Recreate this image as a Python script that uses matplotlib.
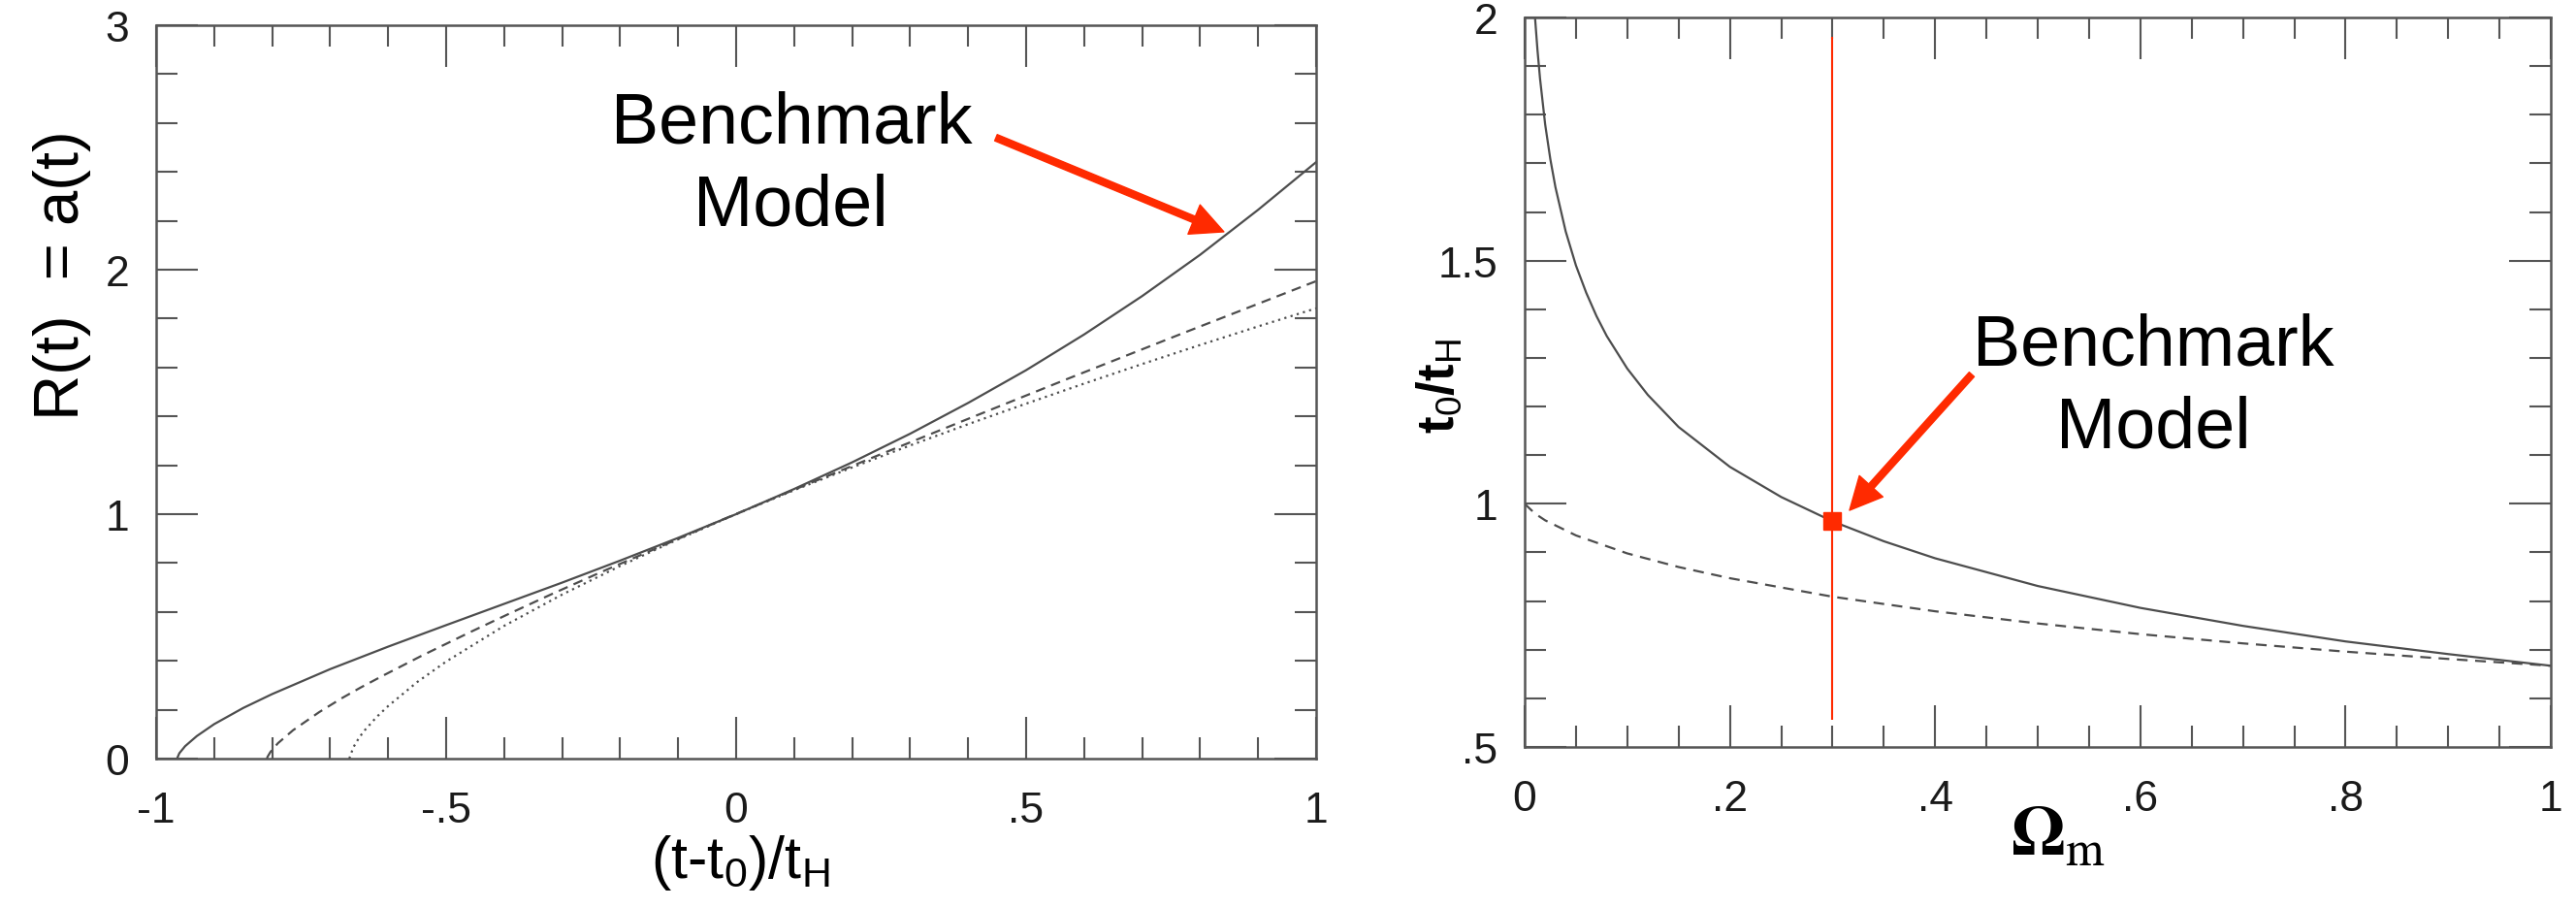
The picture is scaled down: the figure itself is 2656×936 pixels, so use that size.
import matplotlib.pyplot as plt
from matplotlib.ticker import MultipleLocator

plt.rcParams['font.family'] = ['Liberation Sans', 'DejaVu Sans']
plt.rcParams['mathtext.fontset'] = 'custom'
plt.rcParams['mathtext.rm'] = 'Liberation Sans Narrow'
plt.rcParams['mathtext.it'] = 'Liberation Sans Narrow'
plt.rcParams['mathtext.bf'] = 'Liberation Sans:bold'
plt.rcParams['mathtext.default'] = 'regular'

# left panel: a(t) against (t-t0)/tH
lcdm_x = [-0.964, -0.96, -0.95, -0.93, -0.9, -0.85, -0.8, -0.7, -0.6, -0.5, -0.4, -0.3, -0.2,
          -0.1, 0.0, 0.1, 0.2, 0.3, 0.4, 0.5, 0.6, 0.7, 0.8, 0.9, 1.0]
lcdm_a = [0.0, 0.022, 0.051, 0.092, 0.141, 0.207, 0.264, 0.366, 0.458, 0.546, 0.633, 0.720, 0.810,
          0.903, 1.0, 1.103, 1.212, 1.329, 1.455, 1.589, 1.735, 1.892, 2.061, 2.245, 2.44]

open_x = [-0.809, -0.808, -0.803, -0.790, -0.764, -0.719, -0.680, -0.648, -0.610, -0.542, -0.458,
          -0.392, -0.317, -0.231, -0.133, -0.024, 0.100, 0.240, 0.397, 0.572, 0.769, 0.989, 1.0]
open_a = [0.0, 0.007, 0.027, 0.063, 0.116, 0.190, 0.247, 0.290, 0.338, 0.421, 0.518,
          0.592, 0.674, 0.765, 0.865, 0.977, 1.100, 1.236, 1.387, 1.554, 1.739, 1.943, 1.953]

eds_x = [-0.667, -0.66, -0.65, -0.64, -0.62, -0.6, -0.55, -0.5, -0.4, -0.3, -0.2, -0.1, 0.0,
         0.1, 0.2, 0.3, 0.4, 0.5, 0.6, 0.7, 0.8, 0.9, 1.0]
eds_a = [0.0, 0.046, 0.086, 0.117, 0.170, 0.215, 0.313, 0.397, 0.543, 0.671, 0.788, 0.897, 1.0,
         1.098, 1.191, 1.281, 1.368, 1.452, 1.534, 1.614, 1.692, 1.768, 1.842]

# right panel: t0/tH against Omega_m
flat_om = [0.0101, 0.0125, 0.015, 0.02, 0.025, 0.03, 0.04, 0.05, 0.06, 0.07, 0.08, 0.1, 0.12,
           0.15, 0.2, 0.25, 0.3, 0.35, 0.4, 0.5, 0.6, 0.7, 0.8, 0.9, 1.0]
flat_t0 = [2.0, 1.933, 1.874, 1.780, 1.709, 1.651, 1.560, 1.490, 1.434, 1.386, 1.345, 1.278, 1.224,
           1.158, 1.076, 1.014, 0.964, 0.923, 0.888, 0.831, 0.786, 0.749, 0.717, 0.691, 0.667]

open_om = [0.0, 0.01, 0.02, 0.05, 0.1, 0.15, 0.2, 0.3, 0.4, 0.5, 0.6, 0.7, 0.8, 0.9, 1.0]
open_t0 = [1.0, 0.980, 0.966, 0.935, 0.898, 0.870, 0.847, 0.809, 0.779, 0.754, 0.732, 0.713,
           0.696, 0.681, 0.667]

bench_om = 0.3
bench_t0 = 0.964

left_xticks = [-1, -0.5, 0, 0.5, 1]
left_xlabels = ['-1', '-.5', '0', '.5', '1']
left_yticks = [0, 1, 2, 3]
right_xticks = [0, 0.2, 0.4, 0.6, 0.8, 1]
right_xlabels = ['0', '.2', '.4', '.6', '.8', '1']
right_yticks = [0.5, 1, 1.5, 2]
right_ylabels = ['.5', '1', '1.5', '2']

W, H = 2656, 937
fig = plt.figure(figsize=(W / 100, H / 100), dpi=100)
ax1 = fig.add_axes([161 / W, 1 - 783 / H, (1357 - 161) / W, (783 - 27) / H])
ax2 = fig.add_axes([1572 / W, 1 - 771 / H, (2630 - 1572) / W, (771 - 19) / H])

grey = '#4d4d4d'
red = '#ff2a00'
narrow = ['Liberation Sans Narrow', 'Liberation Sans']


def style(ax):
    for s in ax.spines.values():
        s.set_linewidth(1.8)
        s.set_color('#555555')
    ax.tick_params(which='both', direction='in', top=True, right=True, color='#555555',
                   labelcolor='#1a1a1a', width=1.5, labelsize=32, pad=20)
    ax.tick_params(axis='x', which='both', pad=24)
    ax.tick_params(which='major', length=31)
    ax.tick_params(which='minor', length=16)


# left
ax1.plot(lcdm_x, lcdm_a, color=grey, lw=1.6)
ax1.plot(open_x, open_a, color=grey, lw=1.6, ls=(0, (4.5, 3)))
ax1.plot(eds_x, eds_a, color=grey, lw=1.6, ls=(0, (1, 2)))
ax1.set_xlim(-1, 1)
ax1.set_ylim(0, 3)
ax1.set_xticks(left_xticks, left_xlabels)
ax1.set_yticks(left_yticks)
ax1.xaxis.set_minor_locator(MultipleLocator(0.1))
ax1.yaxis.set_minor_locator(MultipleLocator(0.2))
style(ax1)
ax1.set_xlabel(r'(t-t$_0$)/t$_H$', fontsize=44, family=narrow, va='top')
ax1.xaxis.set_label_coords(0.504, -0.100)
ax1.set_ylabel('R(t)  = a(t)', fontsize=47)
ax1.yaxis.set_label_coords(-0.056, 0.66)

ax1.text(0.095, 2.52, 'Benchmark', ha='center', va='baseline', fontsize=53)
ax1.text(0.095, 2.183, 'Model', ha='center', va='baseline', fontsize=53)
ax1.annotate('', xy=(0.841, 2.155), xytext=(0.448, 2.54),
             arrowprops=dict(arrowstyle='simple,head_length=2.4,head_width=2.35,tail_width=0.5',
                             mutation_scale=10, color=red, shrinkA=0, shrinkB=0))

# right
ax2.plot(flat_om, flat_t0, color=grey, lw=1.6)
ax2.plot(open_om, open_t0, color=grey, lw=1.6, ls=(0, (5, 3.5)))
ax2.vlines(bench_om, 0.555, 1.96, color=red, lw=1.5)
ax2.plot(bench_om, bench_t0, 's', color=red, ms=13)
ax2.set_xlim(0, 1)
ax2.set_ylim(0.5, 2)
ax2.set_xticks(right_xticks, right_xlabels)
ax2.set_yticks(right_yticks, right_ylabels)
ax2.xaxis.set_minor_locator(MultipleLocator(0.05))
ax2.yaxis.set_minor_locator(MultipleLocator(0.1))
style(ax2)
ax2.set_xlabel(r'$\mathbf{\Omega}_\mathrm{m}$', fontsize=52, math_fontfamily='stix')
ax2.xaxis.set_label_coords(0.52, -0.078)
ax2.set_ylabel(r'$\mathbf{t}_0\mathbf{/t}_H$', fontsize=38)
ax2.yaxis.set_label_coords(-0.059, 0.496)

ax2.text(0.6125, 1.287, 'Benchmark', ha='center', va='baseline', fontsize=53)
ax2.text(0.6125, 1.118, 'Model', ha='center', va='baseline', fontsize=53)
ax2.annotate('', xy=(0.3166, 0.9866), xytext=(0.4357, 1.266),
             arrowprops=dict(arrowstyle='simple,head_length=2.4,head_width=2.35,tail_width=0.5',
                             mutation_scale=10, color=red, shrinkA=0, shrinkB=0))

fig.savefig('out.png', dpi=100)
